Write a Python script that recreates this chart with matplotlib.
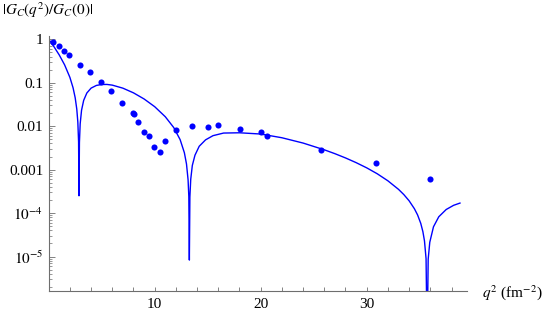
"""|G_C(q^2)/G_C(0)|: measured points against model curve on a log axis."""

import matplotlib
matplotlib.use("Agg")
import matplotlib.pyplot as plt
from matplotlib.ticker import FixedLocator, LogLocator, NullFormatter

BLUE = "#0000ff"
AXIS_GRAY = "#6e6e6e"

# measured points
data_q2 = [0.38, 0.94, 1.44, 1.95, 2.92, 3.93, 4.93, 5.91, 6.95, 7.95, 8.08,
           8.45, 8.96, 9.46, 9.96, 10.47, 10.97, 11.98, 13.49, 15.0, 16.0,
           18.02, 20.0, 20.57, 25.7, 30.9, 35.97]
data_g = [0.88, 0.70, 0.55, 0.435, 0.25, 0.174, 0.106, 0.065, 0.0348, 0.0198,
          0.0188, 0.0127, 0.00747, 0.00594, 0.00332, 0.00251, 0.00464, 0.0083,
          0.0101, 0.0096, 0.0105, 0.0088, 0.0075, 0.0059, 0.00283, 0.00145,
          0.0006]

# model curve (sharp zeros near 2.86, 13.27, 35.7)
curve_q2 = [0.0, 0.5, 1.0, 1.5, 2.0, 2.3, 2.5, 2.65, 2.75, 2.82, 2.86, 2.9,
            2.97, 3.1, 3.3, 3.6, 4.0, 4.5, 5.0, 5.5, 6.0, 7.0, 8.0, 9.0, 10.0,
            11.0, 11.8, 12.4, 12.8, 13.0, 13.15, 13.22, 13.27, 13.32, 13.4,
            13.55, 13.8, 14.2, 14.8, 15.5, 16.5, 18.0, 20.0, 22.0, 24.0, 26.0,
            27.0, 28.0, 29.0, 30.0, 31.0, 32.0, 33.0, 33.5, 34.0, 34.5, 34.8,
            35.1, 35.3, 35.45, 35.6, 35.7, 35.8, 35.95, 36.3, 36.8, 37.5, 38.2,
            38.8]
curve_g = [1.0, 0.675, 0.434, 0.2585, 0.133, 0.0764, 0.0451, 0.0247, 0.0124,
           0.00438, 2.5e-4, 0.00424, 0.0113, 0.0233, 0.0393, 0.0581, 0.0752,
           0.0867, 0.0911, 0.0914, 0.0881, 0.0750, 0.0585, 0.0423, 0.0281,
           0.0165, 0.00928, 0.00490, 0.00245, 0.00135, 5.8e-4, 2.4e-4, 8.3e-6,
           2.35e-4, 6.0e-4, 0.00125, 0.00215, 0.00345, 0.00485, 0.00605,
           0.00695, 0.00705, 0.0066, 0.00542, 0.00409, 0.00286, 0.00233,
           0.00186, 0.00145, 0.00110, 8.02e-4, 5.53e-4, 3.52e-4, 2.67e-4,
           1.92e-4, 1.26e-4, 9.07e-5, 5.79e-5, 3.74e-5, 2.29e-5, 8.95e-6,
           1e-7, 8.69e-6, 2.13e-5, 4.84e-5, 8.23e-5, 1.21e-4, 1.51e-4, 1.7e-4]

x_major = [10, 20, 30]
x_minor = [2, 4, 6, 8, 12, 14, 16, 18, 22, 24, 26, 28, 32, 34, 36, 38]
y_ticks = [1, 0.1, 0.01, 0.001, 1e-4, 1e-5]
y_labels = ["1", "0.1", "0.01", "0.001", r"$10^{-4}$", r"$10^{-5}$"]

plt.rcParams.update({
    "font.family": ["Liberation Serif", "DejaVu Serif"],
    "mathtext.fontset": "stix",
    "font.size": 11,
})

fig = plt.figure(figsize=(5.44, 3.12), dpi=100)
ax = fig.add_axes([0.0895, 0.0673, 0.7697, 0.8173])

ax.plot(curve_q2, curve_g, color=BLUE, lw=1.0)
ax.plot(data_q2, data_g, "o", color=BLUE, ms=4.4, mec="none")

ax.set_yscale("log")
ax.set_xlim(0, 39.5)
ax.set_ylim(1.61e-6, 1.19)

for side in ("top", "right"):
    ax.spines[side].set_visible(False)
for side in ("left", "bottom"):
    ax.spines[side].set_color(AXIS_GRAY)
    ax.spines[side].set_linewidth(0.8)

ax.xaxis.set_major_locator(FixedLocator(x_major))
ax.xaxis.set_minor_locator(FixedLocator(x_minor))
ax.set_xticklabels([str(v) for v in x_major])
ax.set_yticks(y_ticks)
ax.set_yticklabels(y_labels)
ax.yaxis.set_minor_locator(LogLocator(base=10, subs=range(2, 10), numticks=20))
ax.yaxis.set_minor_formatter(NullFormatter())

ax.tick_params(axis="x", which="both", direction="in", length=3, width=0.6,
               color=AXIS_GRAY, pad=5, labelsize=11)
ax.tick_params(axis="y", which="major", direction="in", length=4, width=0.6,
               color=AXIS_GRAY, pad=4, labelsize=11)
ax.tick_params(axis="y", which="minor", direction="in", length=2, width=0.5,
               color=AXIS_GRAY)

fig.text(0.004, 0.966, r"$|G_C(q^2)/G_C(0)|$", ha="left", va="center", fontsize=11)
fig.text(0.886, 0.061, r"$q^2$ (fm$^{-2}$)", ha="left", va="center", fontsize=11)

fig.savefig("out.png", dpi=100)
